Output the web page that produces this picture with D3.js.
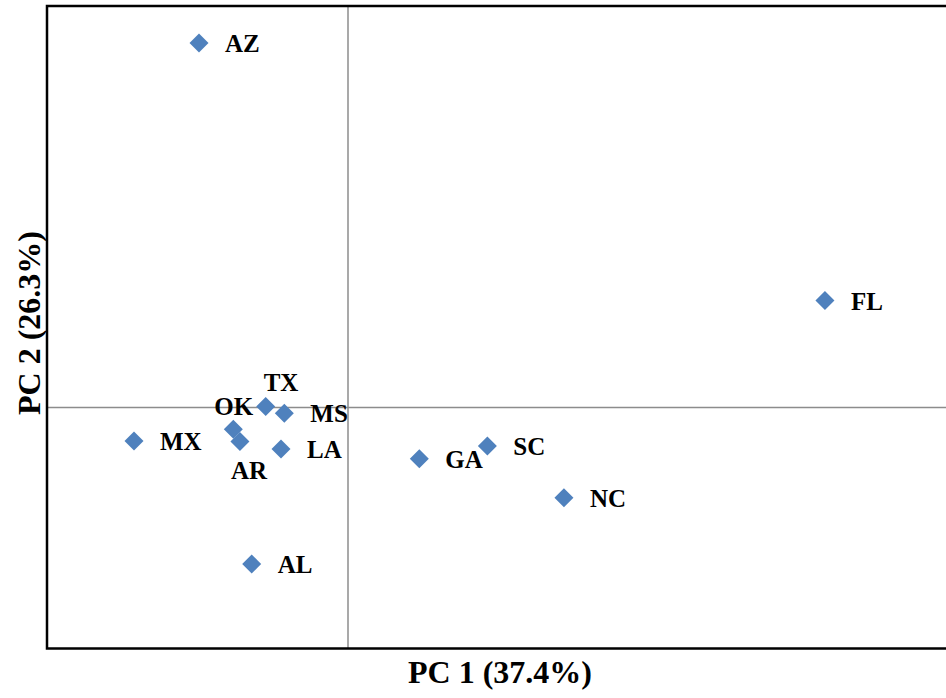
<!DOCTYPE html>
<html>
<head>
<meta charset="utf-8">
<script src="https://cdn.jsdelivr.net/npm/d3@7"></script>
<style>
  html, body { margin: 0; padding: 0; background: #fff; overflow: hidden; }
  svg { display: block; }
  text { font-family: "Liberation Serif", "Times New Roman", serif; font-weight: bold; fill: #000; }
</style>
</head>
<body>
<script>
// ---- data ----
const states = ["AZ", "FL", "TX", "MS", "OK", "AR", "MX", "LA", "GA", "SC", "NC", "AL"];
const pc1 = [-0.990, 3.169, -0.547, -0.423, -0.762, -0.718, -1.422, -0.445, 0.474, 0.926, 1.435, -0.640];
const pc2 = [2.270, 0.666, 0.006, -0.035, -0.135, -0.212, -0.208, -0.258, -0.318, -0.239, -0.561, -0.974];
const xTitle = "PC 1 (37.4%)";
const yTitle = "PC 2 (26.3%)";

// ---- layout (label placement per point, in px) ----
const labelOffset = {
  TX: [-2, -16], OK: [-19, -14], AR: [-9, 37]
};
const defaultOffset = [26, 9];

const W = 946, H = 698;
const svg = d3.select("body").append("svg").attr("width", W).attr("height", H);

const x = d3.scaleLinear().domain([-2, 4]).range([47, 950]);
const y = d3.scaleLinear().domain([-1.5, 2.5]).range([648.5, 6]);

const data = states.map((s, i) => ({ s, x: pc1[i], y: pc2[i] }));

// cross axes through origin
svg.append("line")
  .attr("x1", x(0)).attr("x2", x(0)).attr("y1", y(2.5)).attr("y2", y(-1.5))
  .attr("stroke", "#8c8c8c").attr("stroke-width", 1.5);
svg.append("line")
  .attr("x1", x(-2)).attr("x2", W).attr("y1", y(0)).attr("y2", y(0))
  .attr("stroke", "#8c8c8c").attr("stroke-width", 1.5);

// frame (left, top, bottom)
svg.append("path")
  .attr("d", `M${W},${y(2.5)} L${x(-2)},${y(2.5)} L${x(-2)},${y(-1.5)} L${W},${y(-1.5)}`)
  .attr("fill", "none").attr("stroke", "#000").attr("stroke-width", 2.5);

// diamonds
const r = 9.5;
svg.append("g").selectAll("path").data(data).join("path")
  .attr("d", d => {
    const cx = x(d.x), cy = y(d.y);
    return `M${cx},${cy - r} L${cx + r},${cy} L${cx},${cy + r} L${cx - r},${cy} Z`;
  })
  .attr("fill", "#4F81BD");

// labels
svg.append("g").selectAll("text").data(data).join("text")
  .attr("x", d => x(d.x) + (labelOffset[d.s] || defaultOffset)[0])
  .attr("y", d => y(d.y) + (labelOffset[d.s] || defaultOffset)[1])
  .attr("font-size", 25)
  .text(d => d.s);

// axis titles
svg.append("text")
  .attr("x", 500).attr("y", 683)
  .attr("text-anchor", "middle")
  .attr("font-size", 32)
  .text(xTitle);
svg.append("text")
  .attr("transform", "translate(40,323) rotate(-90)")
  .attr("text-anchor", "middle")
  .attr("font-size", 32)
  .text(yTitle);
</script>
</body>
</html>
